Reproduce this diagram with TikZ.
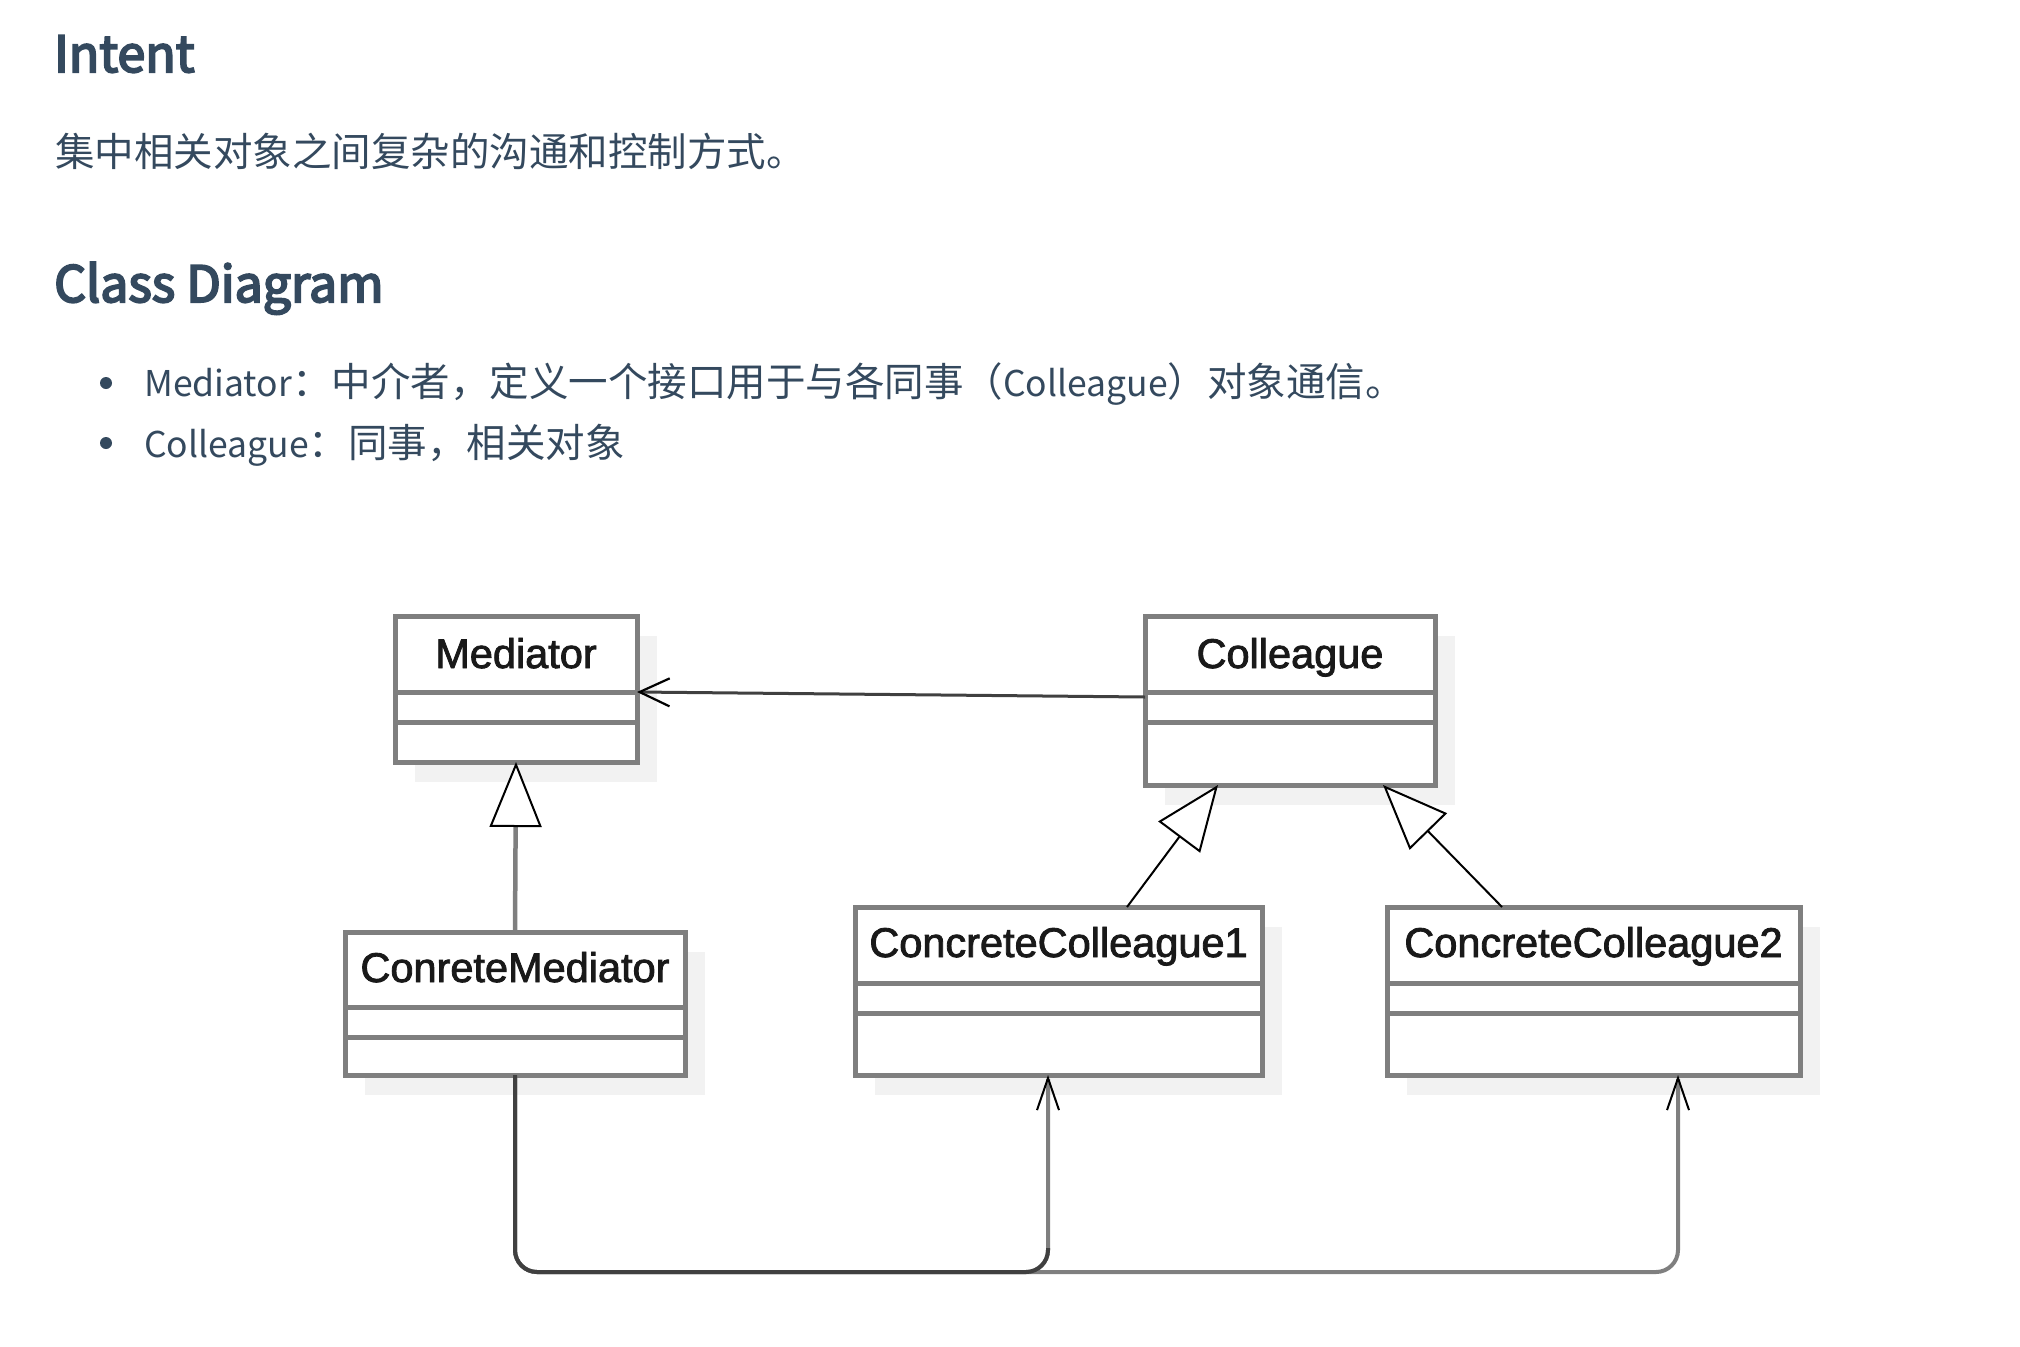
\documentclass[tikz,border=0pt]{standalone}
\usepackage{fontspec}
\setmainfont{Liberation Sans}
\newfontfamily\cjk{Noto Sans CJK SC}
\newfontfamily\cjkhead[FakeBold=4]{Noto Sans CJK SC}
\newfontfamily\umlfont[FakeBold=2]{Liberation Sans}
\usetikzlibrary{arrows.meta,shadows}
\definecolor{slate}{HTML}{34495E}
\definecolor{boxline}{HTML}{7F7F7F}
\definecolor{shade}{HTML}{F2F2F2}
\definecolor{darkline}{HTML}{404040}
\newcommand{\lat}[1]{{\fontsize{35.5}{46}\selectfont #1}}
\tikzset{
  heading/.style={font=\cjkhead\fontsize{50}{60}\selectfont, text=slate, anchor=base west, inner sep=0pt},
  bodytext/.style={font=\cjk\fontsize{39.5}{46}\selectfont, text=slate, anchor=base west, inner sep=0pt},
  itemtext/.style={font=\cjk\fontsize{39.5}{46}\selectfont, text=slate, anchor=base west, inner sep=0pt},
  bulletdot/.style={circle, fill=slate, minimum size=12pt, inner sep=0pt},
  umlbox/.style={draw=boxline, line width=5pt, fill=white, inner sep=0pt, outer sep=0pt,
    drop shadow={shadow xshift=20pt, shadow yshift=-20pt, fill=shade, opacity=1}},
  classname/.style={font=\umlfont\fontsize{41.5}{48}\selectfont, text=black!90, anchor=base, inner sep=0pt},
  divider/.style={draw=boxline, line width=5pt},
  assocline/.style={draw=darkline, line width=3pt, -{Straight Barb[length=30pt,width=28pt,line width=2.2pt,color=black]}},
  genline/.style={draw=boxline, line width=4.5pt, -{Triangle[length=65pt,width=52pt,line width=2pt,color=black,fill=white]}},
  genthin/.style={draw=black, line width=2pt, -{Triangle[length=65pt,width=52pt,line width=2pt,color=black,fill=white]}},
  busline/.style={draw=boxline, line width=4pt, rounded corners=22pt, -{Straight Barb[length=32pt,width=22pt,line width=2pt,color=black]}},
  busdark/.style={draw=darkline, line width=4pt, rounded corners=22pt},
}
\begin{document}
\begin{tikzpicture}[x=1pt,y=-1pt]
\useasboundingbox (0,0) rectangle (2020,1346);
% text part
\node[heading] (intent) at (54,72) {Intent};
\node[bodytext] (intenttext) at (55,166) {集中相关对象之间复杂的沟通和控制方式。};
\node[heading] (cdhead) at (54,302) {Class Diagram};
\node[bulletdot] (dot1) at (106,383) {};
\node[itemtext] (item1) at (144,396) {\lat{Mediator}：中介者，定义一个接口用于与各同事（\lat{Colleague}）对象通信。};
\node[bulletdot] (dot2) at (106,443) {};
\node[itemtext] (item2) at (144,457) {\lat{Colleague}：同事，相关对象};
% class boxes
\node[umlbox, minimum width=242pt, minimum height=146pt] (med) at (516,689) {};
\node[umlbox, minimum width=290pt, minimum height=169pt] (col) at (1290,700.5) {};
\node[umlbox, minimum width=340pt, minimum height=143pt] (cm) at (515,1003.5) {};
\node[umlbox, minimum width=407pt, minimum height=168pt] (cc1) at (1058.5,991) {};
\node[umlbox, minimum width=413pt, minimum height=168pt] (cc2) at (1593.5,991) {};
\foreach \b/\a/\c in {med/76/106, col/76/106, cm/75/105, cc1/76/106, cc2/76/106} {
  \draw[divider] ([yshift=-\a pt]\b.north west) -- ([yshift=-\a pt]\b.north east);
  \draw[divider] ([yshift=-\c pt]\b.north west) -- ([yshift=-\c pt]\b.north east);
}
\node[classname] (medname) at (516,668) {Mediator};
\node[classname] (colname) at (1290,668) {Colleague};
\node[classname] (cmname) at (515,982) {ConreteMediator};
\node[classname] (cc1name) at (1058.5,957) {ConcreteColleague1};
\node[classname] (cc2name) at (1593.5,957) {ConcreteColleague2};
% connectors
\draw[assocline] ([yshift=3.5pt]col.west) -- ([yshift=-3pt]med.east);
\draw[genline] (cm.north) -- (med.south);
\draw[genthin] ([xshift=68.5pt]cc1.north) -- ([xshift=-72pt]col.south);
\draw[genthin] ([xshift=-91.5pt]cc2.north) -- ([xshift=93pt]col.south);
\coordinate (cc1in) at ([xshift=-10.5pt]cc1.south);
\coordinate (cc2in) at ([xshift=84.5pt]cc2.south);
\coordinate (bus) at (0,1272);
\coordinate (j1) at (cc1in |- bus);
\draw[busline] (cm.south) -- (cm.south |- bus) -- (cc2in |- bus) -- (cc2in);
\draw[busline] (cm.south) -- (cm.south |- bus) -- (cc1in |- bus) -- (cc1in);
\draw[busdark] (cm.south) -- (cm.south |- bus) -- (j1) -- ([yshift=24pt]j1);
\end{tikzpicture}
\end{document}
